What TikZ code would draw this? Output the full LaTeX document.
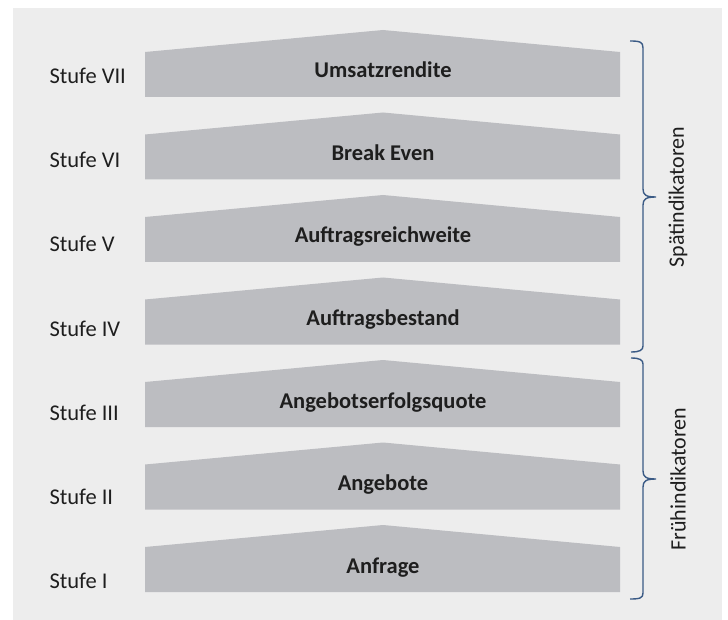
\documentclass[tikz,border=0pt]{standalone}
\usepackage{fontspec}
\setmainfont{Carlito}
\usepackage{tikz}
\definecolor{bggray}{HTML}{EDEDED}
\definecolor{stgray}{HTML}{BCBDC1}
\definecolor{brblue}{HTML}{3A5A85}
\definecolor{txt}{HTML}{1E1E1E}
\tikzstyle{bg}=[fill=bggray]
\tikzstyle{stufebox}=[fill=stgray]
\tikzstyle{kpi}=[anchor=base, text=txt, font=\fontsize{22.5}{27}\selectfont\bfseries]
\tikzstyle{lvl}=[anchor=base west, text=txt, font=\fontsize{22.5}{27}\selectfont]
\tikzstyle{grp}=[rotate=90, text=txt, font=\fontsize{22}{26}\selectfont]
\tikzstyle{brc}=[draw=brblue, line width=1.4pt]

\begin{document}
\begin{tikzpicture}[x=1pt, y=-1pt]

% frame
\useasboundingbox (0,0) rectangle (728,620);
\fill[bg] (13,8) rectangle (722,620);

% stages
\fill[stufebox] (145,592) -- (145,547) -- (383,525) -- (620,547) -- (620,592) -- cycle;
\fill[stufebox] (145,509.5) -- (145,464.5) -- (383,442.5) -- (620,464.5) -- (620,509.5) -- cycle;
\fill[stufebox] (145,427) -- (145,382) -- (383,360) -- (620,382) -- (620,427) -- cycle;
\fill[stufebox] (145,344.5) -- (145,299.5) -- (383,277.5) -- (620,299.5) -- (620,344.5) -- cycle;
\fill[stufebox] (145,262) -- (145,217) -- (383,195) -- (620,217) -- (620,262) -- cycle;
\fill[stufebox] (145,179.5) -- (145,134.5) -- (383,112.5) -- (620,134.5) -- (620,179.5) -- cycle;
\fill[stufebox] (145,97) -- (145,52) -- (383,30) -- (620,52) -- (620,97) -- cycle;

% stage texts
\node[kpi] (s1) at (383,573) {Anfrage};
\node[kpi] (s2) at (383,490.5) {Angebote};
\node[kpi] (s3) at (383,408) {Angebotserfolgsquote};
\node[kpi] (s4) at (383,325.5) {Auftragsbestand};
\node[kpi] (s5) at (383,243) {Auftragsreichweite};
\node[kpi] (s6) at (383,160.5) {Break Even};
\node[kpi] (s7) at (383,78) {Umsatzrendite};

% levels
\node[lvl] (l1) at (46,588) {Stufe I};
\node[lvl] (l2) at (46,504) {Stufe II};
\node[lvl] (l3) at (46,420) {Stufe III};
\node[lvl] (l4) at (46,336) {Stufe IV};
\node[lvl] (l5) at (46,252) {Stufe V};
\node[lvl] (l6) at (46,168) {Stufe VI};
\node[lvl] (l7) at (46,84) {Stufe VII};

% braces
\coordinate (spA) at (630,41);
\coordinate (spB) at (631,352);
\coordinate (frA) at (631,358);
\coordinate (frB) at (630,599);
\draw[brc] (spA) .. controls (640,41) and (643,42) .. (643,48)
  -- (643,189) .. controls (643,195) and (646,197) .. (656,197)
  .. controls (646,197) and (643,199) .. (643,205)
  -- (643,346) .. controls (643,350) and (640,352) .. (spB);
\draw[brc] (frA) .. controls (640,358) and (643,360) .. (643,364)
  -- (643,471) .. controls (643,477) and (646,479) .. (656,479)
  .. controls (646,479) and (643,481) .. (643,487)
  -- (643,593) .. controls (643,598) and (640,599) .. (frB);

% groups
\node[grp] (spaet) at (678,197) {Spätindikatoren};
\node[grp] (frueh) at (678,479) {Frühindikatoren};

\end{tikzpicture}
\end{document}
